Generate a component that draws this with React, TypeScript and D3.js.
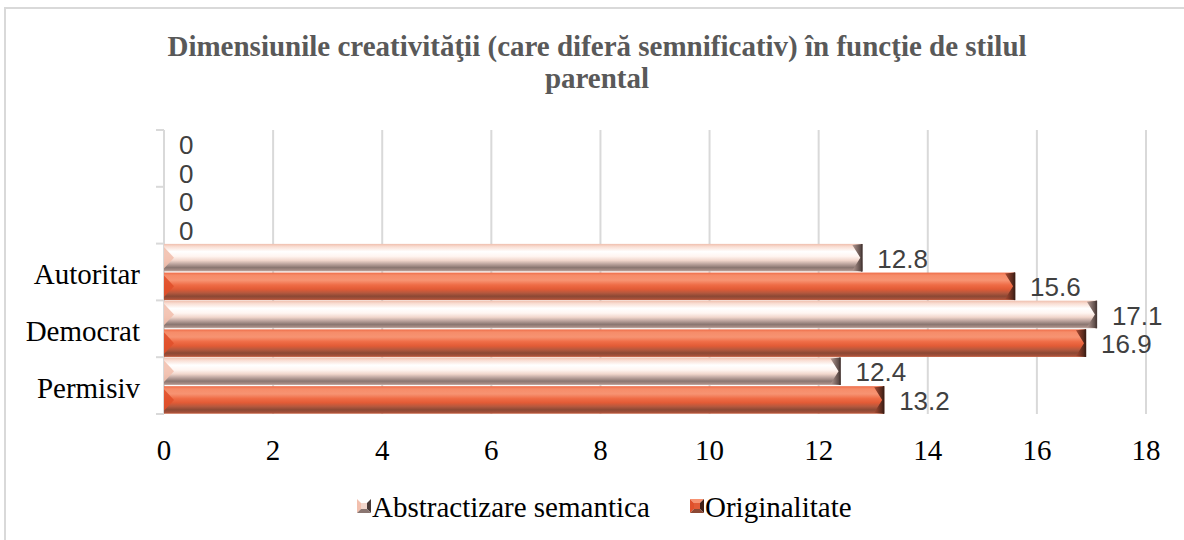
import * as d3 from 'd3'
import * as React from 'react'

//------------------------------data------------------------------
const CATEGORIES = ['', '', 'Autoritar', 'Democrat', 'Permisiv']
const SERIES = ['Abstractizare semantica', 'Originalitate']
const ABSTRACTIZARE = [0, 0, 12.8, 17.1, 12.4]
const ORIGINALITATE = [0, 0, 15.6, 16.9, 13.2]
const X_TICKS = [0, 2, 4, 6, 8, 10, 12, 14, 16, 18]
const TITLE_LINES = [
  'Dimensiunile creativităţii (care diferă semnificativ) în funcţie de stilul',
  'parental'
]

const WIDTH = 1184
const HEIGHT = 540
const PLOT = { left: 164, right: 1146, top: 130, bottom: 414 }
const SERIF = '"Liberation Serif", "Times New Roman", serif'
const SANS = '"Liberation Sans", Arial, sans-serif'

// gradient stops per series (vertical), right bevel colours, left chevron
const STYLES = [
  {
    id: 'abs',
    stops: [
      [0, '#efbfae'],
      [0.1, '#f9ddd2'],
      [0.28, '#ffffff'],
      [0.45, '#fff5f1'],
      [0.6, '#f1d6cc'],
      [0.74, '#b9a19b'],
      [0.86, '#8a7671'],
      [0.95, '#a68c85'],
      [1, '#c9b1a9']
    ],
    bevelFrom: '#b49a93',
    bevelTo: '#4a3b38',
    chevron: '#f2c0ae'
  },
  {
    id: 'org',
    stops: [
      [0, '#ee6c48'],
      [0.1, '#f68c69'],
      [0.28, '#f79372'],
      [0.45, '#ef6c46'],
      [0.6, '#e25b36'],
      [0.74, '#b4583e'],
      [0.86, '#8b4834'],
      [0.95, '#a4503a'],
      [1, '#c65e3e']
    ],
    bevelFrom: '#a84a32',
    bevelTo: '#3f1f16',
    chevron: '#e0502b'
  }
]

//------------------------------draw------------------------------
const drawChart = (svgRef: React.RefObject<SVGSVGElement | null>) => {
  const svg = d3.select(svgRef.current)
  svg.selectAll('*').remove()
  svg.attr('width', WIDTH).attr('height', HEIGHT)

  const defs = svg.append('defs')
  STYLES.forEach(s => {
    const g = defs
      .append('linearGradient')
      .attr('id', `grad-${s.id}`)
      .attr('x1', 0)
      .attr('y1', 0)
      .attr('x2', 0)
      .attr('y2', 1)
    s.stops.forEach(([o, c]) =>
      g.append('stop').attr('offset', o as number).attr('stop-color', c as string)
    )
    const b = defs
      .append('linearGradient')
      .attr('id', `bevel-${s.id}`)
      .attr('x1', 0)
      .attr('y1', 0)
      .attr('x2', 1)
      .attr('y2', 0)
    b.append('stop').attr('offset', 0).attr('stop-color', s.bevelFrom)
    b.append('stop').attr('offset', 1).attr('stop-color', s.bevelTo)
  })

  // chart border
  svg
    .append('rect')
    .attr('x', 5)
    .attr('y', 8)
    .attr('width', WIDTH + 20)
    .attr('height', HEIGHT + 20)
    .attr('fill', '#fff')
    .attr('stroke', '#d9d9d9')
    .attr('stroke-width', 2)

  // title
  svg
    .append('text')
    .attr('x', 597)
    .attr('y', 56)
    .attr('text-anchor', 'middle')
    .style('font-family', SERIF)
    .attr('font-weight', 'bold')
    .attr('font-size', 29)
    .attr('fill', '#595959')
    .selectAll('tspan')
    .data(TITLE_LINES)
    .join('tspan')
    .attr('x', 597)
    .attr('dy', (_, i) => (i === 0 ? 0 : 32))
    .text(d => d)

  const x = d3
    .scaleLinear()
    .domain([0, 18])
    .range([PLOT.left, PLOT.right])
  const y = d3
    .scaleBand<number>()
    .domain(d3.range(CATEGORIES.length))
    .range([PLOT.top, PLOT.bottom])
    .padding(0)
  const inner = d3
    .scaleBand<number>()
    .domain([0, 1])
    .range([0, y.bandwidth()])
    .paddingInner(0.04)
    .paddingOuter(0.01)

  // gridlines
  svg
    .append('g')
    .selectAll('line')
    .data(X_TICKS.slice(1))
    .join('line')
    .attr('x1', d => x(d))
    .attr('x2', d => x(d))
    .attr('y1', PLOT.top)
    .attr('y2', PLOT.bottom)
    .attr('stroke', '#d9d9d9')
    .attr('stroke-width', 2)

  // y axis line + ticks
  const yBounds = d3.range(CATEGORIES.length + 1).map(
    i => PLOT.top + i * y.step()
  )
  svg
    .append('line')
    .attr('x1', PLOT.left)
    .attr('x2', PLOT.left)
    .attr('y1', PLOT.top)
    .attr('y2', PLOT.bottom)
    .attr('stroke', '#d9d9d9')
    .attr('stroke-width', 2)
  svg
    .append('g')
    .selectAll('line')
    .data(yBounds)
    .join('line')
    .attr('x1', PLOT.left - 8)
    .attr('x2', PLOT.left)
    .attr('y1', d => d)
    .attr('y2', d => d)
    .attr('stroke', '#d9d9d9')
    .attr('stroke-width', 2)

  // x tick labels
  svg
    .append('g')
    .selectAll('text')
    .data(X_TICKS)
    .join('text')
    .attr('x', d => x(d))
    .attr('y', 460)
    .attr('text-anchor', 'middle')
    .style('font-family', SERIF)
    .attr('font-size', 29)
    .attr('fill', '#000')
    .text(d => d)

  // category labels
  svg
    .append('g')
    .selectAll('text')
    .data(CATEGORIES)
    .join('text')
    .attr('x', 140)
    .attr('y', (_, i) => (y(i) as number) + y.bandwidth() / 2 + 2)
    .attr('dy', '0.35em')
    .attr('text-anchor', 'end')
    .style('font-family', SERIF)
    .attr('font-size', 29)
    .attr('fill', '#000')
    .text(d => d)

  // bars
  const seriesValues = [ABSTRACTIZARE, ORIGINALITATE]
  seriesValues.forEach((vals, si) => {
    const s = STYLES[si]
    const g = svg.append('g')
    vals.forEach((v, ci) => {
      const y0 = (y(ci) as number) + (inner(si) as number)
      const h = inner.bandwidth()
      const x0 = x(0)
      const x1 = x(v)
      const w = x1 - x0
      if (w > 0) {
        const bv = Math.min(10, w / 2)
        g.append('rect')
          .attr('x', x0)
          .attr('y', y0)
          .attr('width', w)
          .attr('height', h)
          .attr('fill', `url(#grad-${s.id})`)
        g.append('polygon')
          .attr(
            'points',
            [
              [x0, y0 + 3],
              [x0 + bv, y0 + h / 2],
              [x0, y0 + h - 3]
            ].join(' ')
          )
          .attr('fill', s.chevron)
          .attr('opacity', 0.9)
        g.append('polygon')
          .attr(
            'points',
            [
              [x1 - bv, y0 + 1],
              [x1, y0],
              [x1, y0 + h],
              [x1 - bv, y0 + h - 1],
              [x1 - 2, y0 + h / 2]
            ].join(' ')
          )
          .attr('fill', `url(#bevel-${s.id})`)
        g.append('line')
          .attr('x1', x1 - 0.5)
          .attr('x2', x1 - 0.5)
          .attr('y1', y0)
          .attr('y2', y0 + h)
          .attr('stroke', s.bevelTo)
          .attr('stroke-width', 1.5)
      }
      g.append('text')
        .attr('x', x1 + 15)
        .attr('y', y0 + h / 2 + 1)
        .attr('dy', '0.35em')
        .style('font-family', SANS)
        .attr('font-size', 26)
        .attr('fill', '#404040')
        .text(v)
    })
  })

  // legend
  const legendX = [357, 690]
  SERIES.forEach((name, si) => {
    const s = STYLES[si]
    const lx = legendX[si]
    const ly = 499
    const sz = 14
    const g = svg.append('g')
    const c = [lx + sz / 2, ly + sz / 2]
    const tri = (pts: number[][], fill: string) =>
      g.append('polygon').attr('points', pts.join(' ')).attr('fill', fill)
    tri([[lx, ly], [lx + sz, ly], c], s.stops[2][1] as string)
    tri([[lx, ly], [lx, ly + sz], c], s.chevron)
    tri([[lx + sz, ly], [lx + sz, ly + sz], c], s.bevelTo)
    tri([[lx, ly + sz], [lx + sz, ly + sz], c], s.stops[6][1] as string)
    g.append('rect')
      .attr('x', lx + 4)
      .attr('y', ly + 4)
      .attr('width', sz - 8)
      .attr('height', sz - 8)
      .attr('fill', s.stops[4][1] as string)
    g.append('text')
      .attr('x', lx + sz + 1)
      .attr('y', 517)
      .style('font-family', SERIF)
      .attr('font-size', 29)
      .attr('fill', '#000')
      .text(name)
  })
}

//------------------------------Component------------------------------
export default function App() {
  const chartSvg = React.useRef<SVGSVGElement>(null)

  React.useEffect(() => {
    drawChart(chartSvg)
  }, [])

  return (
    <svg
      ref={chartSvg}
      style={{ position: 'absolute', left: 0, top: 0, display: 'block' }}
    />
  )
}
